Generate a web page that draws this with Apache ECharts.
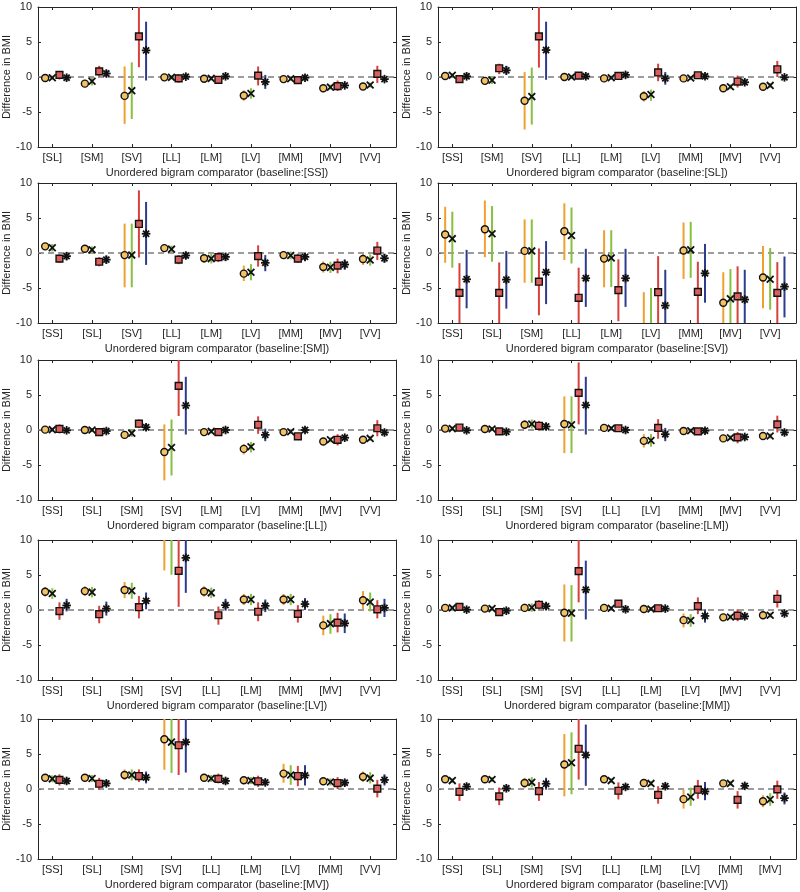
<!DOCTYPE html>
<html>
<head>
<meta charset="utf-8">
<script src="https://cdn.jsdelivr.net/npm/echarts@6/dist/echarts.min.js"></script>
<style>
html,body{margin:0;padding:0;background:#fff;}
#chart{width:800px;height:892px;}
</style>
</head>
<body>
<div id="chart"></div>
<script>
// ---------------- DATA ----------------
const BIGRAMS = ['SS','SL','SM','SV','LL','LM','LV','MM','MV','VV'];
const BASELINES = ['SS','SL','SM','SV','LL','LM','LV','MM','MV','VV'];
const Y_TICKS = [-10, -5, 0, 5, 10];
const CAT_POS = [1,2,3,4,5,6,7,8,9];
// each entry: [mean, lower, upper] per comparator category (baseline excluded)
// series A = orange circle, B = green x, C = red square, D = blue asterisk

// baseline SS : SL SM SV LL LM LV MM MV VV
const SS_A = [[-0.15,-0.45,0.15],[-0.95,-1.4,-0.5],[-2.7,-6.7,1.5],[-0.05,-0.35,0.25],[-0.25,-0.55,0.05],[-2.65,-3.4,-1.9],[-0.3,-0.6,0],[-1.6,-1.95,-1.25],[-1.35,-1.7,-1.0]];
const SS_B = [[-0.1,-0.4,0.2],[-0.6,-1.2,-0.1],[-1.95,-6.0,2.1],[-0.05,-0.35,0.25],[-0.2,-0.5,0.1],[-2.35,-3.1,-1.6],[-0.25,-0.55,0.05],[-1.45,-1.8,-1.1],[-1.15,-1.5,-0.8]];
const SS_C = [[0.3,-0.35,0.85],[0.8,0.05,1.6],[5.8,1.4,10.5],[-0.2,-0.8,0.4],[-0.4,-0.8,0.0],[0.2,-1.2,1.5],[-0.45,-0.8,-0.1],[-1.3,-2.0,-0.5],[0.45,-0.85,1.6]];
const SS_D = [[-0.1,-0.5,0.3],[0.5,0,1.0],[3.8,-0.5,7.9],[0.05,-0.3,0.4],[0.1,-0.25,0.45],[-0.7,-1.7,0.3],[-0.1,-0.45,0.25],[-1.2,-1.55,-0.85],[-0.3,-0.65,0.05]];

// baseline SL : SS SM SV LL LM LV MM MV VV
const SL_A = [[0.15,-0.15,0.45],[-0.55,-1.1,0],[-3.4,-7.5,0.7],[0.0,-0.3,0.3],[-0.2,-0.5,0.1],[-2.75,-3.5,-2.0],[-0.2,-0.5,0.1],[-1.6,-1.95,-1.25],[-1.4,-1.75,-1.05]];
const SL_B = [[0.25,-0.05,0.55],[-0.45,-1.0,0.1],[-2.8,-6.8,1.35],[0.0,-0.3,0.3],[-0.1,-0.4,0.2],[-2.5,-3.4,-1.8],[-0.15,-0.45,0.15],[-1.4,-1.75,-1.05],[-1.2,-1.55,-0.85]];
const SL_C = [[-0.3,-0.8,0.2],[1.25,0.4,1.9],[5.8,1.35,10.5],[0.2,-0.2,0.6],[0.15,-0.25,0.55],[0.65,-0.6,1.9],[0.25,-0.15,0.65],[-0.65,-1.5,0.2],[1.1,0,2.3]];
const SL_D = [[0.1,-0.3,0.5],[0.95,0.3,1.6],[3.85,-0.4,7.9],[0.1,-0.25,0.45],[0.3,-0.05,0.65],[-0.2,-1.1,0.7],[0.1,-0.25,0.45],[-0.75,-1.15,-0.35],[-0.05,-0.4,0.3]];

// baseline SM : SS SL SV LL LM LV MM MV VV
const SM_A = [[0.95,0.4,1.4],[0.6,0.1,1.1],[-0.3,-4.9,4.2],[0.7,0.2,1.2],[-0.75,-1.4,-0.1],[-2.95,-4.0,-1.8],[-0.3,-0.8,0.2],[-2.0,-2.8,-1.2],[-0.85,-1.7,-0.1]];
const SM_B = [[0.75,0.2,1.3],[0.45,-0.05,0.95],[-0.3,-4.9,4.2],[0.55,0.05,1.05],[-0.8,-1.5,-0.1],[-2.75,-3.9,-1.6],[-0.35,-0.9,0.2],[-2.05,-2.85,-1.25],[-1.0,-1.8,-0.2]];
const SM_C = [[-0.8,-1.4,-0.2],[-1.25,-1.9,-0.6],[4.15,-0.65,8.95],[-0.95,-1.6,-0.3],[-0.6,-1.3,0.1],[-0.45,-1.95,1.1],[-0.8,-1.4,-0.1],[-1.8,-2.9,-0.8],[0.35,-1.0,1.6]];
const SM_D = [[-0.45,-1.0,0.1],[-0.95,-1.5,-0.4],[2.75,-1.7,7.3],[-0.35,-0.85,0.15],[-0.55,-1.1,0.0],[-1.4,-2.6,-0.3],[-0.55,-1.1,0.0],[-1.65,-2.4,-0.9],[-0.75,-1.4,-0.1]];

// baseline SV : SS SL SM LL LM LV MM MV VV
const SV_A = [[2.65,-1.4,6.6],[3.4,-0.6,7.5],[0.3,-4.25,4.8],[3.1,-1.0,7.1],[-0.8,-4.9,3.25],[-11.0,-16.0,-5.6],[0.35,-3.7,4.35],[-7.1,-11.5,-2.75],[-3.5,-7.9,1.0]];
const SV_B = [[2.05,-2.1,5.9],[2.75,-1.25,6.7],[0.3,-4.25,4.8],[2.5,-1.5,6.5],[-0.7,-4.85,3.25],[-10.5,-15.5,-5.0],[0.45,-3.55,4.45],[-6.55,-11.0,-2.3],[-3.75,-8.1,0.7]];
const SV_C = [[-5.7,-10.5,-1.45],[-5.7,-10.5,-1.35],[-4.1,-8.9,0.65],[-6.4,-11.0,-2.1],[-5.3,-9.75,-0.9],[-5.6,-10.5,-0.45],[-5.55,-10.5,-1.25],[-6.2,-10.5,-1.9],[-5.7,-10.5,-1.3]];
const SV_D = [[-3.75,-7.9,0.45],[-3.8,-7.95,0.3],[-2.75,-7.3,1.7],[-3.6,-7.7,0.6],[-3.6,-7.7,0.6],[-7.5,-12.0,-2.4],[-2.9,-7.1,1.3],[-6.65,-11.0,-2.4],[-4.8,-9.2,-0.5]];

// baseline LL : SS SL SM SV LM LV MM MV VV
const LL_A = [[0.05,-0.25,0.35],[0.0,-0.3,0.3],[-0.7,-1.2,-0.2],[-3.15,-7.2,0.8],[-0.3,-0.6,0.0],[-2.7,-3.5,-2.0],[-0.3,-0.6,0.0],[-1.65,-2.0,-1.3],[-1.4,-1.75,-1.05]];
const LL_B = [[0.05,-0.25,0.35],[0.0,-0.3,0.3],[-0.45,-1.0,0.1],[-2.5,-6.5,1.5],[-0.2,-0.5,0.1],[-2.4,-3.2,-1.7],[-0.25,-0.55,0.05],[-1.4,-1.75,-1.05],[-1.2,-1.55,-0.85]];
const LL_C = [[0.15,-0.5,0.8],[-0.3,-0.6,0.0],[0.9,0.3,1.5],[6.3,2.0,10.5],[-0.3,-0.65,0.05],[0.75,-0.55,1.95],[-0.9,-1.25,-0.55],[-1.4,-2.2,-0.6],[0.25,-0.9,1.4]];
const LL_D = [[-0.05,-0.4,0.3],[-0.15,-0.5,0.2],[0.4,-0.1,0.9],[3.5,-0.65,7.6],[0.0,-0.35,0.35],[-0.7,-1.6,0.2],[0.0,-0.35,0.35],[-1.1,-1.45,-0.75],[-0.35,-0.7,0.0]];

// baseline LM : SS SL SM SV LL LV MM MV VV
const LM_A = [[0.2,-0.1,0.5],[0.15,-0.15,0.45],[0.75,0.1,1.4],[0.85,-3.3,4.8],[0.3,0.0,0.6],[-1.55,-2.5,-0.6],[-0.15,-0.45,0.15],[-1.2,-1.55,-0.85],[-0.85,-1.2,-0.5]];
const LM_B = [[0.2,-0.1,0.5],[0.15,-0.15,0.45],[0.85,0.2,1.5],[0.75,-3.3,4.8],[0.25,-0.05,0.55],[-1.5,-2.4,-0.6],[-0.1,-0.4,0.2],[-1.1,-1.45,-0.75],[-0.85,-1.2,-0.5]];
const LM_C = [[0.35,0.0,0.7],[-0.2,-0.55,0.15],[0.6,-0.1,1.3],[5.3,0.8,9.65],[0.25,-0.1,0.6],[0.3,-1.25,1.55],[-0.2,-0.55,0.15],[-1.05,-1.9,-0.3],[0.8,-0.35,2.05]];
const LM_D = [[-0.05,-0.4,0.3],[-0.25,-0.6,0.1],[0.5,0.0,1.0],[3.55,-0.65,7.6],[0.0,-0.35,0.35],[-0.6,-1.6,0.3],[-0.1,-0.45,0.25],[-1.0,-1.35,-0.65],[-0.35,-0.7,0.0]];

// baseline LV : SS SL SM SV LL LM MM MV VV
const LV_A = [[2.6,1.9,3.3],[2.7,2.0,3.4],[2.85,1.7,4.0],[12.0,5.65,18.0],[2.65,1.9,3.4],[1.5,0.7,2.3],[1.5,0.7,2.3],[-2.2,-3.6,-0.8],[1.4,0.1,2.7]];
const LV_B = [[2.35,1.6,3.1],[2.55,1.8,3.3],[2.75,1.6,3.9],[11.5,5.05,18.0],[2.45,1.7,3.2],[1.5,0.7,2.3],[1.5,0.7,2.3],[-1.95,-3.4,-0.6],[1.15,-0.2,2.5]];
const LV_C = [[-0.15,-1.4,1.1],[-0.6,-1.9,0.6],[0.4,-1.2,2.0],[5.6,0.45,10.5],[-0.75,-2.1,0.5],[-0.25,-1.6,1.1],[-0.55,-1.8,0.7],[-1.8,-3.2,-0.4],[0.1,-1.2,1.4]];
const LV_D = [[0.65,-0.2,1.6],[0.2,-0.8,1.2],[1.3,0.1,2.5],[7.45,2.45,10.5],[0.7,-0.1,1.6],[0.6,-0.3,1.5],[0.85,0.0,1.7],[-1.9,-3.3,-0.5],[0.3,-1.0,1.6]];

// baseline MM : SS SL SM SV LL LM LV MV VV
const MM_A = [[0.3,0.0,0.6],[0.2,-0.1,0.5],[0.3,-0.3,0.9],[-0.4,-4.5,3.65],[0.3,0.0,0.6],[0.15,-0.15,0.45],[-1.45,-2.5,-0.5],[-1.05,-1.4,-0.7],[-0.75,-1.1,-0.4]];
const MM_B = [[0.3,0.0,0.6],[0.2,-0.1,0.5],[0.35,-0.25,0.95],[-0.45,-4.5,3.55],[0.25,-0.05,0.55],[0.15,-0.15,0.45],[-1.5,-2.4,-0.6],[-1.0,-1.35,-0.65],[-0.75,-1.1,-0.4]];
const MM_C = [[0.45,0.1,0.8],[-0.3,-0.65,0.05],[0.75,0.1,1.4],[5.55,1.1,10.5],[0.9,0.55,1.25],[0.25,-0.15,0.65],[0.55,-0.6,1.8],[-0.8,-1.6,0.1],[1.6,0.35,2.85]];
const MM_D = [[0.05,-0.3,0.4],[-0.1,-0.45,0.25],[0.55,0.05,1.05],[2.9,-1.35,7.05],[0.1,-0.25,0.45],[0.2,-0.15,0.55],[-0.85,-1.8,0.1],[-0.9,-1.25,-0.55],[-0.5,-0.85,-0.15]];

// baseline MV : SS SL SM SV LL LM LV MM VV
const MV_A = [[1.6,1.1,2.1],[1.6,1.1,2.1],[2.0,1.3,2.8],[7.1,2.75,11.5],[1.6,1.1,2.1],[1.25,0.75,1.75],[2.2,0.9,3.6],[1.1,0.6,1.6],[1.75,1.0,2.5]];
const MV_B = [[1.45,0.95,1.95],[1.5,1.0,2.0],[2.0,1.2,2.8],[6.7,2.3,11.0],[1.5,1.0,2.0],[1.2,0.7,1.7],[2.0,0.6,3.4],[1.0,0.5,1.5],[1.55,0.8,2.4]];
const MV_C = [[1.3,0.5,2.1],[0.75,-0.1,1.6],[1.85,1.0,2.8],[6.25,2.0,10.5],[1.45,0.8,2.2],[1.1,0.3,1.9],[1.85,0.4,3.3],[0.85,0.0,1.7],[0.05,-1.2,1.3]];
const MV_D = [[1.15,0.7,1.6],[0.8,0.35,1.25],[1.65,0.8,2.5],[6.7,2.35,11.0],[1.15,0.7,1.6],[0.95,0.5,1.4],[1.95,0.5,3.4],[0.9,0.45,1.35],[1.3,0.5,2.1]];

// baseline VV : SS SL SM SV LL LM LV MM MV
const VV_A = [[1.4,1.05,1.75],[1.4,1.05,1.75],[0.85,0.1,1.6],[3.5,-1.05,7.85],[1.4,1.05,1.75],[0.85,0.5,1.2],[-1.45,-2.8,-0.1],[0.8,0.45,1.15],[-1.75,-2.6,-0.9]];
const VV_B = [[1.2,0.85,1.55],[1.35,1.0,1.7],[0.95,0.2,1.7],[3.75,-0.75,8.1],[1.2,0.85,1.55],[0.8,0.45,1.15],[-1.15,-2.4,0.2],[0.8,0.45,1.15],[-1.5,-2.4,-0.6]];
const VV_C = [[-0.4,-1.7,0.8],[-1.05,-2.3,0.2],[-0.3,-1.7,1.0],[5.75,1.35,10.5],[-0.25,-1.5,0.95],[-0.85,-2.1,0.4],[-0.1,-1.4,1.3],[-1.55,-2.8,-0.3],[-0.05,-1.4,1.2]];
const VV_D = [[0.35,-0.05,0.75],[0.1,-0.3,0.5],[0.75,-0.1,1.6],[4.85,0.45,9.2],[0.3,-0.1,0.7],[0.4,0.0,0.8],[-0.35,-1.6,1.0],[0.45,0.05,0.85],[-1.3,-2.2,-0.5]];

const PANEL_DATA = {
  SS:[SS_A,SS_B,SS_C,SS_D], SL:[SL_A,SL_B,SL_C,SL_D], SM:[SM_A,SM_B,SM_C,SM_D],
  SV:[SV_A,SV_B,SV_C,SV_D], LL:[LL_A,LL_B,LL_C,LL_D], LM:[LM_A,LM_B,LM_C,LM_D],
  LV:[LV_A,LV_B,LV_C,LV_D], MM:[MM_A,MM_B,MM_C,MM_D], MV:[MV_A,MV_B,MV_C,MV_D],
  VV:[VV_A,VV_B,VV_C,VV_D]
};

// ---------------- STYLE / LAYOUT ----------------
const TEXT = '#262626';
const FONT = '"Liberation Sans", Arial, Helvetica, sans-serif';
const BAR_COLORS = ['#F0A030', '#86C03C', '#D8403C', '#2E3C8E'];
const OFFSETS = [-0.18, 0, 0.18, 0.36];
const X_MIN = 0.64, X_MAX = 9.65, Y_MIN = -10, Y_MAX = 10;
const COL_LEFT = [38, 438], GRID_W = 358;
const ROW_TOP = [7, 183, 360, 540, 719], GRID_H = 140;

function makeRender(k) {
  return function (params, api) {
    const x = api.value(0), m = api.value(1), lo = api.value(2), hi = api.value(3);
    const children = [];
    const lo2 = Math.max(lo, Y_MIN), hi2 = Math.min(hi, Y_MAX);
    if (lo2 < hi2) {
      const p1 = api.coord([x, lo2]), p2 = api.coord([x, hi2]);
      children.push({type:'line', shape:{x1:p1[0], y1:p1[1], x2:p2[0], y2:p2[1]},
        style:{stroke:BAR_COLORS[k], lineWidth:2}});
    }
    if (m >= Y_MIN && m <= Y_MAX) {
      const c = api.coord([x, m]);
      const cx = c[0], cy = c[1];
      if (k === 0) {
        children.push({type:'circle', shape:{cx:cx, cy:cy, r:3.5},
          style:{fill:'#F3C264', stroke:'#111', lineWidth:1.4}});
      } else if (k === 1) {
        const s = 3.4;
        children.push({type:'line', shape:{x1:cx-s,y1:cy-s,x2:cx+s,y2:cy+s}, style:{stroke:'#111', lineWidth:1.8}});
        children.push({type:'line', shape:{x1:cx-s,y1:cy+s,x2:cx+s,y2:cy-s}, style:{stroke:'#111', lineWidth:1.8}});
      } else if (k === 2) {
        children.push({type:'rect', shape:{x:cx-3.4, y:cy-3.4, width:6.8, height:6.8},
          style:{fill:'#D9605C', stroke:'#111', lineWidth:1.4}});
      } else {
        const r = 4.3, d = r * 0.7071;
        const segs = [[-r,0,r,0],[0,-r,0,r],[-d,-d,d,d],[-d,d,d,-d]];
        segs.forEach(function (sg) {
          children.push({type:'line', shape:{x1:cx+sg[0],y1:cy+sg[1],x2:cx+sg[2],y2:cy+sg[3]},
            style:{stroke:'#111', lineWidth:1.8}});
        });
      }
    }
    return {type:'group', children: children};
  };
}

const grids = [], xAxes = [], yAxes = [], series = [];
BASELINES.forEach(function (base, p) {
  const col = p % 2, row = Math.floor(p / 2);
  const cats = BIGRAMS.filter(function (b) { return b !== base; });
  grids.push({left: COL_LEFT[col], top: ROW_TOP[row], width: GRID_W, height: GRID_H, containLabel: false});
  const xi = xAxes.length;
  xAxes.push({
    type:'value', gridIndex:p, min:X_MIN, max:X_MAX, position:'bottom',
    name:'Unordered bigram comparator (baseline:[' + base + '])',
    nameLocation:'middle', nameGap:20,
    nameTextStyle:{color:TEXT, fontSize:11, fontFamily:FONT},
    axisLine:{show:true, onZero:false, lineStyle:{color:TEXT, width:1}},
    axisTick:{show:true, inside:true, length:3, customValues:CAT_POS, lineStyle:{color:TEXT}},
    axisLabel:{show:true, margin:5, color:TEXT, fontSize:11, fontFamily:FONT, customValues:CAT_POS,
      formatter:function (v) { return '[' + cats[Math.round(v) - 1] + ']'; }},
    splitLine:{show:false}
  });
  xAxes.push({
    type:'value', gridIndex:p, min:X_MIN, max:X_MAX, position:'top',
    axisLine:{show:true, onZero:false, lineStyle:{color:TEXT, width:1}},
    axisTick:{show:true, inside:true, length:3, customValues:CAT_POS, lineStyle:{color:TEXT}},
    axisLabel:{show:false}, splitLine:{show:false}
  });
  const yi = yAxes.length;
  yAxes.push({
    type:'value', gridIndex:p, min:Y_MIN, max:Y_MAX, interval:5, position:'left',
    name:'Difference in BMI', nameLocation:'middle', nameGap:24,
    nameTextStyle:{color:TEXT, fontSize:11, fontFamily:FONT},
    axisLine:{show:true, onZero:false, lineStyle:{color:TEXT, width:1}},
    axisTick:{show:true, inside:true, length:3, lineStyle:{color:TEXT}},
    axisLabel:{show:true, margin:6, color:TEXT, fontSize:11, fontFamily:FONT},
    splitLine:{show:false}
  });
  yAxes.push({
    type:'value', gridIndex:p, min:Y_MIN, max:Y_MAX, interval:5, position:'right',
    axisLine:{show:true, onZero:false, lineStyle:{color:TEXT, width:1}},
    axisTick:{show:true, inside:true, length:3, lineStyle:{color:TEXT}},
    axisLabel:{show:false}, splitLine:{show:false}
  });
  const groups = PANEL_DATA[base];
  groups.forEach(function (arr, k) {
    const data = arr.map(function (t, i) { return [CAT_POS[i] + OFFSETS[k], t[0], t[1], t[2]]; });
    const s = {
      type:'custom', xAxisIndex:xi, yAxisIndex:yi, renderItem:makeRender(k),
      data:data, silent:true, animation:false, z: 3 + k
    };
    if (k === 0) {
      s.markLine = {silent:true, symbol:'none', animation:false, z:1,
        label:{show:false},
        lineStyle:{color:'#7c7c7c', type:[6,4], width:1.5},
        data:[{yAxis:0}]};
    }
    series.push(s);
  });
});

const chart = echarts.init(document.getElementById('chart'), null, {renderer:'canvas'});
chart.setOption({
  animation:false,
  backgroundColor:'#ffffff',
  textStyle:{fontFamily:FONT},
  grid:grids, xAxis:xAxes, yAxis:yAxes, series:series
});
</script>
</body>
</html>
